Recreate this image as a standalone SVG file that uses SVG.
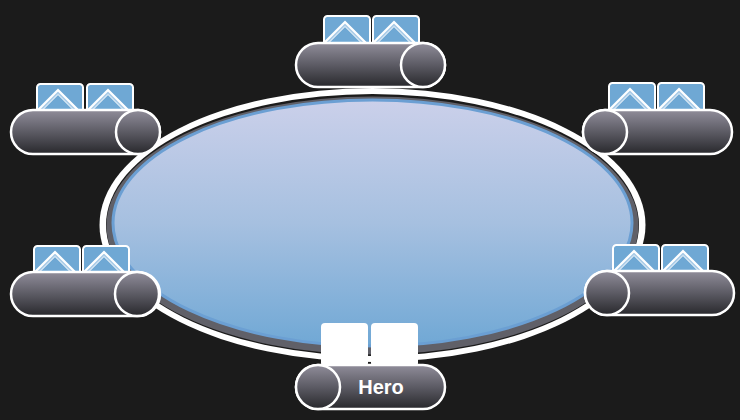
<svg xmlns="http://www.w3.org/2000/svg" xmlns:xlink="http://www.w3.org/1999/xlink" width="740" height="420" viewBox="0 0 740 420">
  <defs>
    <linearGradient id="feltGrad" x1="0" y1="0" x2="0" y2="1">
      <stop offset="0" stop-color="#cbd0ea"/>
      <stop offset="0.5" stop-color="#a6c0e0"/>
      <stop offset="1" stop-color="#70a8d5"/>
    </linearGradient>
    <linearGradient id="seatGrad" x1="0" y1="0" x2="0" y2="1">
      <stop offset="0" stop-color="#908d9a"/>
      <stop offset="0.5" stop-color="#5c5b64"/>
      <stop offset="1" stop-color="#28282c"/>
    </linearGradient>
    <clipPath id="cardClip">
      <rect x="0" y="0" width="46" height="40" rx="3.5"/>
    </clipPath>
    <g id="card">
      <rect x="0" y="0" width="46" height="40" rx="3.5" fill="#6fa8d4"/>
      <g clip-path="url(#cardClip)">
        <polygon points="21,6 44,29 21,52 -2,29" fill="#a9cbe7" stroke="#ffffff" stroke-width="2.2"/>
        <polygon points="21,10.5 39.5,29 21,47.5 2.5,29" fill="#6fa8d4" stroke="#ffffff" stroke-width="1"/>
      </g>
      <rect x="0" y="0" width="46" height="40" rx="3.5" fill="none" stroke="#ffffff" stroke-width="2"/>
    </g>
  </defs>
  <style>
    .seat { fill: url(#seatGrad); stroke: #ffffff; stroke-width: 2.5; }
    .hero-card { fill: #ffffff; }
    .label { font-family: "Liberation Sans", Arial, sans-serif; font-weight: bold; font-size: 20px; fill: #ffffff; }
  </style>
  <rect x="0" y="0" width="740" height="420" fill="#1b1b1b"/>

  <g id="table">
    <ellipse cx="372.5" cy="225" rx="273" ry="137" fill="#ffffff"/>
    <ellipse cx="372.5" cy="225" rx="266.5" ry="131" fill="#1b1b1b"/>
    <ellipse cx="372.5" cy="225.5" rx="266" ry="129" fill="#606068"/>
    <ellipse cx="372.5" cy="223" rx="259.5" ry="123" fill="url(#feltGrad)" stroke="#6b9fd3" stroke-width="3"/>
  </g>

  <g id="connectors"/>

  <g id="seat-top">
    <use xlink:href="#card" href="#card" x="324" y="16"/>
    <use xlink:href="#card" href="#card" x="373" y="16"/>
    <rect class="seat" x="296" y="43" width="149" height="44" rx="22"/>
    <circle class="seat" cx="423" cy="65" r="22"/>
  </g>

  <g id="seat-top-left">
    <use xlink:href="#card" href="#card" x="37" y="84"/>
    <use xlink:href="#card" href="#card" x="87" y="84"/>
    <rect class="seat" x="11" y="110" width="149" height="44" rx="22"/>
    <circle class="seat" cx="138" cy="132" r="22"/>
  </g>

  <g id="seat-top-right">
    <use xlink:href="#card" href="#card" x="609" y="83"/>
    <use xlink:href="#card" href="#card" x="658" y="83"/>
    <rect class="seat" x="583" y="110" width="149" height="44" rx="22"/>
    <circle class="seat" cx="605" cy="132" r="22"/>
  </g>

  <g id="seat-bottom-left">
    <use xlink:href="#card" href="#card" x="34" y="246"/>
    <use xlink:href="#card" href="#card" x="83" y="246"/>
    <rect class="seat" x="11" y="272" width="149" height="44" rx="22"/>
    <circle class="seat" cx="137" cy="294" r="22"/>
  </g>

  <g id="seat-bottom-right">
    <use xlink:href="#card" href="#card" x="613" y="245"/>
    <use xlink:href="#card" href="#card" x="662" y="245"/>
    <rect class="seat" x="585" y="271" width="149" height="44" rx="22"/>
    <circle class="seat" cx="607" cy="293" r="22"/>
  </g>

  <g id="seat-hero">
    <rect class="hero-card" x="321" y="323" width="47" height="44" rx="4"/>
    <rect class="hero-card" x="371" y="323" width="47" height="44" rx="4"/>
    <rect class="seat" x="296" y="365" width="149" height="44" rx="22"/>
    <circle class="seat" cx="318" cy="387" r="22"/>
    <text class="label" x="381" y="394" text-anchor="middle">Hero</text>
  </g>
</svg>
